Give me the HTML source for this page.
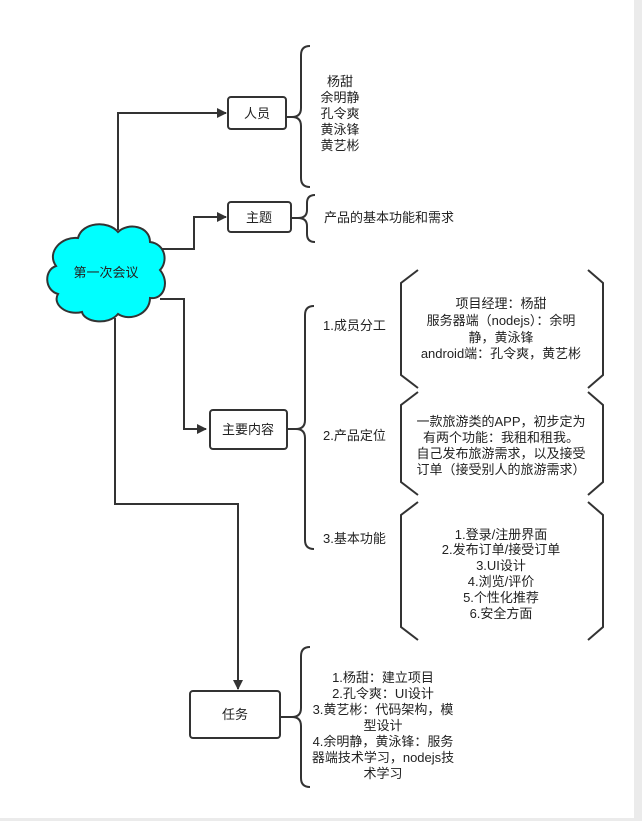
<!DOCTYPE html>
<html><head><meta charset="utf-8"><style>
html,body{margin:0;padding:0;background:#fff;}
svg{display:block;}
text{font-family:"Liberation Sans","Noto Sans CJK SC",sans-serif;font-size:13px;fill:#222;}
</style></head><body>
<svg width="642" height="821" viewBox="0 0 642 821" xmlns="http://www.w3.org/2000/svg">
<rect x="0" y="0" width="642" height="821" fill="#fff"/>
<rect x="634" y="0" width="8" height="821" fill="#ebebeb"/>
<rect x="0" y="818" width="642" height="3" fill="#ebebeb"/>
<defs><marker id="a" markerWidth="10" markerHeight="10" refX="9" refY="5" orient="auto" markerUnits="userSpaceOnUse"><path d="M0,0 L10,5 L0,10 Z" fill="#333"/></marker></defs>
<g fill="none" stroke="#333" stroke-width="2">
<path d="M118,230 V113 H226" marker-end="url(#a)"/>
<path d="M162,249 H194 V217 H226" marker-end="url(#a)"/>
<path d="M160,299 H184 V429 H206" marker-end="url(#a)"/>
<path d="M115,318 V504 H238 V689" marker-end="url(#a)"/>
</g>
<path d="M78,238 C82,222 108,220 118,232 C128,222 150,226 150,242 C166,244 168,262 160,270 C170,282 164,300 150,298 C150,314 130,322 118,314 C108,326 84,322 82,312 C66,316 52,304 58,294 C44,290 44,270 56,266 C46,252 62,236 78,238 Z" fill="#00ffff" stroke="#333" stroke-width="2"/>
<text x="106" y="277" text-anchor="middle">第一次会议</text>
<g fill="#fff" stroke="#333" stroke-width="2">
<rect x="228" y="97" width="58" height="32" rx="3"/>
<rect x="228" y="202" width="63" height="30" rx="3"/>
<rect x="210" y="410" width="77" height="39" rx="3"/>
<rect x="190" y="691" width="90" height="47" rx="3"/>
</g>
<text x="257" y="118" text-anchor="middle">人员</text>
<text x="259" y="222" text-anchor="middle">主题</text>
<text x="248" y="434" text-anchor="middle">主要内容</text>
<text x="235" y="719" text-anchor="middle">任务</text>
<g fill="none" stroke="#333" stroke-width="2">
<path d="M310,46 Q301,46 301,55 V108 Q301,117 292,117 H287 M292,117 Q301,117 301,126 V178 Q301,187 310,187"/>
<path d="M315,195 Q307,195 307,203 V210 Q307,218 298,218 H291 M298,218 Q307,218 307,226 V234 Q307,242 315,242"/>
<path d="M314,306 Q305,306 305,315 V420 Q305,429 296,429 H288 M296,429 Q305,429 305,438 V540 Q305,549 314,549"/>
<path d="M310,647 Q301,647 301,656 V708 Q301,717 292,717 H281 M292,717 Q301,717 301,726 V778 Q301,787 310,787"/>
<path d="M418,270 L401,283 V375 L418,388 M588,270 L603,283 V375 L588,388"/>
<path d="M418,392 L401,405 V482 L418,495 M588,392 L603,405 V482 L588,495"/>
<path d="M418,502 L401,515 V627 L418,640 M588,502 L603,515 V627 L588,640"/>
</g>
<g text-anchor="middle">
<text x="340" y="86">杨甜</text>
<text x="340" y="102">余明静</text>
<text x="340" y="118">孔令爽</text>
<text x="340" y="134">黄泳锋</text>
<text x="340" y="150">黄艺彬</text>
</g>
<text x="324" y="222">产品的基本功能和需求</text>
<text x="323" y="330">1.成员分工</text>
<text x="323" y="440">2.产品定位</text>
<text x="323" y="543">3.基本功能</text>
<g text-anchor="middle">
<text x="501" y="308">项目经理：杨甜</text>
<text x="501" y="325">服务器端（nodejs）：余明</text>
<text x="501" y="342">静，黄泳锋</text>
<text x="501" y="358">android端：孔令爽，黄艺彬</text>
<text x="501" y="426">一款旅游类的APP，初步定为</text>
<text x="501" y="442">有两个功能：我租和租我。</text>
<text x="501" y="458">自己发布旅游需求，以及接受</text>
<text x="501" y="474">订单（接受别人的旅游需求）</text>
<text x="501" y="539">1.登录/注册界面</text>
<text x="501" y="554">2.发布订单/接受订单</text>
<text x="501" y="570">3.UI设计</text>
<text x="501" y="586">4.浏览/评价</text>
<text x="501" y="602">5.个性化推荐</text>
<text x="501" y="618">6.安全方面</text>
<text x="383" y="682">1.杨甜：建立项目</text>
<text x="383" y="698">2.孔令爽：UI设计</text>
<text x="383" y="714">3.黄艺彬：代码架构，模</text>
<text x="383" y="730">型设计</text>
<text x="383" y="746">4.余明静，黄泳锋：服务</text>
<text x="383" y="762">器端技术学习，nodejs技</text>
<text x="383" y="778">术学习</text>
</g>
</svg>
</body></html>
